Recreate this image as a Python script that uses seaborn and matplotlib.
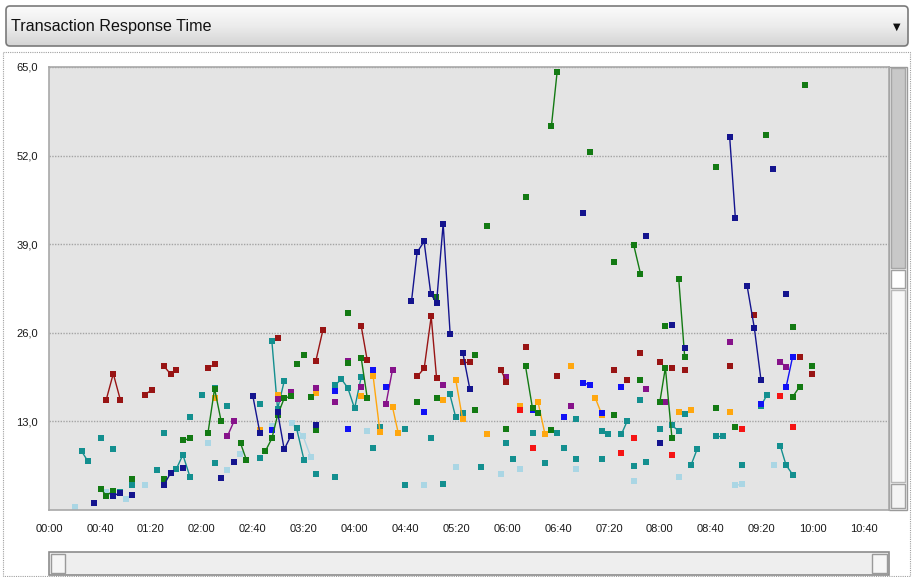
import numpy as np
import pandas as pd
import matplotlib
matplotlib.use('Agg')
import matplotlib.pyplot as plt
from matplotlib.patches import Rectangle, FancyBboxPatch
from matplotlib.colors import LinearSegmentedColormap
import seaborn as sns

# elapsed time in minutes, response time in seconds
# every inner list is one connected run of samples
dark_red = [
    [(45.0, 16.2), (50.5, 20.0), (56.0, 16.2)],
    [(75.1, 16.9), (80.6, 17.6)],
    [(90.3, 21.1), (95.8, 19.9), (100.0, 20.6)],
    [(124.9, 20.8), (130.1, 21.4)],
    [(179.6, 25.3)],
    [(209.7, 21.9), (215.2, 26.4)],
    [(245.3, 27.0), (250.0, 22.0)],
    [(289.3, 19.6), (294.8, 20.8), (300.3, 28.4), (304.5, 19.4)],
    [(325.1, 21.7), (330.4, 21.7)],
    [(355.0, 20.6), (359.4, 18.8)],
    [(374.4, 23.9)], [(399.2, 19.7)], [(444.3, 20.6)], [(454.2, 19.1)],
    [(464.7, 23.1)], [(479.9, 21.7)], [(489.5, 20.8)], [(499.5, 20.6)],
    [(534.8, 21.1)], [(554.2, 28.6)], [(589.8, 22.5)], [(599.5, 20.0)],
]

teal = [
    [(25.7, 8.6), (30.4, 7.2)],
    [(40.8, 10.5)], [(50.5, 8.9)], [(55.8, 2.7)], [(65.4, 3.6)],
    [(85.1, 5.8)], [(90.3, 11.3)],
    [(100.0, 6.0), (105.2, 8.1), (110.7, 4.9)],
    [(110.7, 13.6)], [(120.4, 16.9)], [(130.1, 17.9)], [(130.1, 6.9)],
    [(140.1, 15.3)], [(165.7, 15.5)], [(165.7, 7.7)],
    [(175.1, 24.8), (179.6, 14.8), (184.8, 18.9)],
    [(194.5, 12.0), (200.3, 7.4)],
    [(209.7, 5.3)],
    [(224.6, 18.3), (229.8, 19.2), (234.8, 17.9), (240.1, 14.9), (245.3, 19.5)],
    [(224.6, 4.9)], [(254.7, 9.1)], [(260.0, 12.2)], [(279.6, 11.9)],
    [(279.6, 3.6)], [(300.3, 10.5)], [(309.7, 3.8)],
    [(314.9, 17.0), (319.6, 13.6)],
    [(324.9, 14.2)], [(339.8, 6.3)], [(359.4, 9.9)], [(364.7, 7.5)],
    [(379.9, 11.3)], [(389.6, 6.9)], [(399.2, 11.3)], [(404.5, 9.1)],
    [(414.2, 13.4)], [(414.2, 7.5)],
    [(434.6, 11.6), (439.3, 11.2)],
    [(434.6, 7.5)],
    [(449.7, 11.1), (454.2, 13.0)],
    [(459.4, 6.4)], [(464.7, 16.1)], [(469.1, 7.1)], [(479.9, 11.9)],
    [(489.5, 12.4), (494.8, 11.6)],
    [(499.5, 14.1)],
    [(504.5, 6.6), (509.2, 8.9)],
    [(524.1, 10.8), (529.3, 10.8)],
    [(544.5, 6.6)],
    [(559.4, 15.3), (564.2, 16.9)],
    [(574.6, 9.4), (579.1, 6.6), (584.3, 5.2)],
]

green = [
    [(40.8, 3.1), (45.0, 2.1), (50.5, 2.8)],
    [(65.4, 4.5)], [(90.3, 4.6)],
    [(105.2, 10.2), (110.7, 10.5)],
    [(124.9, 11.3), (130.1, 17.8), (135.3, 13.0)],
    [(150.5, 9.8), (155.0, 7.4)],
    [(169.9, 8.6), (175.1, 10.5), (179.6, 13.9), (184.8, 16.4), (190.1, 16.7)],
    [(194.5, 21.4)], [(200.3, 22.8)], [(205.5, 16.6)], [(209.7, 11.7)],
    [(234.8, 28.9)], [(234.8, 21.6)],
    [(245.3, 22.3), (250.0, 16.5)],
    [(289.3, 15.8)], [(303.9, 31.3)], [(304.5, 16.4)], [(334.6, 22.8)],
    [(334.6, 14.7)], [(344.3, 41.7)], [(359.4, 11.9)], [(374.4, 45.9)],
    [(374.4, 21.1), (379.9, 14.9), (384.3, 14.2)],
    [(394.8, 56.4), (399.2, 64.2)],
    [(394.8, 11.7)], [(424.9, 52.5)], [(444.3, 13.9)], [(444.3, 36.4)],
    [(459.4, 38.9), (464.7, 34.7)],
    [(464.7, 19.1)],
    [(479.9, 15.8), (484.3, 20.9), (489.5, 10.5)],
    [(484.3, 27.0)],
    [(494.8, 33.9), (499.5, 22.4)],
    [(523.8, 50.3)], [(524.1, 15.0)], [(539.3, 12.2)], [(563.6, 55.0)],
    [(584.3, 26.9)],
    [(584.3, 16.6), (589.8, 18.1)],
    [(593.7, 62.3)], [(599.5, 21.1)],
]

navy = [
    [(35.3, 1.1)],
    [(50.5, 2.1), (55.8, 2.5)],
    [(65.4, 2.2)],
    [(90.3, 3.7), (95.8, 5.5)],
    [(105.5, 6.1)], [(135.3, 4.7)], [(145.3, 7.1)],
    [(160.2, 16.7), (165.7, 11.3)],
    [(179.6, 14.4), (184.8, 8.9), (190.1, 10.9)],
    [(209.7, 12.5)],
    [(284.8, 30.6), (289.2, 37.8), (294.7, 39.4), (300.0, 31.7),
     (304.5, 30.4), (309.7, 42.0), (315.2, 25.8)],
    [(325.1, 23.1), (330.6, 17.8)],
    [(419.7, 43.6)], [(469.1, 40.2)], [(479.9, 9.9)], [(489.5, 27.2)],
    [(499.5, 23.7)],
    [(534.8, 54.8), (539.3, 42.8)],
    [(548.5, 32.9), (554.2, 26.7), (559.4, 19.1)],
    [(568.9, 50.0)], [(579.1, 31.7)],
]

blue = [
    [(175.1, 11.7)], [(224.6, 17.5)], [(234.8, 11.9)], [(254.7, 20.5)],
    [(264.7, 18.0)], [(294.8, 14.4)], [(379.9, 14.7)], [(404.5, 13.6)],
    [(419.7, 18.7), (424.9, 18.3)],
    [(434.6, 14.2)], [(449.7, 18.0)], [(559.4, 15.6)],
    [(579.1, 18.0), (584.3, 22.5)],
]

purple = [
    [(140.1, 10.8), (145.3, 13.0)],
    [(180.0, 16.3)], [(190.1, 17.3)], [(209.7, 17.9)], [(224.6, 15.8)],
    [(234.8, 21.9)], [(245.3, 18.0)],
    [(264.7, 15.5), (269.9, 20.6)],
    [(309.7, 18.3)], [(359.4, 19.5)], [(410.0, 15.3)], [(469.1, 17.8)],
    [(484.3, 15.8)], [(534.8, 24.7)],
    [(574.6, 21.7), (579.1, 21.0)],
]

orange = [
    [(130.1, 16.4)], [(165.7, 11.8)], [(180.0, 16.9)], [(209.7, 17.2)],
    [(245.3, 16.7)],
    [(254.7, 19.6), (260.0, 11.5)],
    [(269.9, 15.1), (274.4, 11.3)],
    [(309.7, 16.1)],
    [(319.6, 19.1), (324.9, 13.4)],
    [(344.3, 11.1)], [(369.9, 15.3)],
    [(384.3, 15.8), (389.6, 11.2)],
    [(410.0, 21.1)],
    [(429.3, 16.4), (434.6, 13.9)],
    [(494.8, 14.4)], [(504.5, 14.7)], [(534.8, 14.4)],
]

red = [
    [(369.9, 14.7)], [(379.9, 9.1)], [(449.7, 8.3)], [(459.4, 10.6)],
    [(489.5, 8.1)], [(544.5, 11.9)], [(574.6, 16.7)], [(584.3, 12.2)],
]

light_blue = [
    [(20.4, 0.4)], [(45.0, 2.6)], [(60.2, 1.6)], [(75.4, 3.6)],
    [(124.9, 9.9)], [(140.1, 5.8)], [(149.7, 8.2)], [(175.1, 12.3)],
    [(190.6, 12.7), (199.7, 10.8), (205.7, 7.8)],
    [(249.5, 11.6)], [(294.8, 3.6)], [(319.4, 6.3)], [(355.0, 5.3)],
    [(369.9, 6.0)], [(414.2, 6.0)], [(459.4, 4.2)], [(494.8, 4.9)],
    [(539.3, 3.6), (544.5, 3.8)],
    [(569.4, 6.6)],
]

series = {
    'light_blue': light_blue, 'teal': teal, 'orange': orange, 'red': red,
    'purple': purple, 'blue': blue, 'green': green, 'dark_red': dark_red,
    'navy': navy,
}
palette = {
    'dark_red': '#981414', 'teal': '#138f8f', 'green': '#137a13',
    'navy': '#14148e', 'blue': '#1010f5', 'purple': '#86128a',
    'orange': '#ffa70f', 'red': '#f51414', 'light_blue': '#aad6e4',
}

rows = []
for name, segs in series.items():
    for i, seg in enumerate(segs):
        for t, v in seg:
            rows.append({'series': name, 'seg': f'{name}_{i}', 't': t, 'v': v})
df = pd.DataFrame(rows)

sns.set_style('white')
plt.rcParams['font.family'] = ['Liberation Sans', 'DejaVu Sans']

W, H = 914, 577
fig = plt.figure(figsize=(W / 100, H / 100), dpi=100)
fig.patch.set_facecolor('white')

# window chrome drawn in pixel coordinates
bg = fig.add_axes([0, 0, 1, 1], zorder=0)
bg.set_xlim(0, W)
bg.set_ylim(H, 0)
bg.axis('off')

bg.add_patch(Rectangle((3, 52), 907, 524, fill=False, ec='#a0a0a0', lw=0.8, ls=(0, (1, 1))))

hdr = FancyBboxPatch((6, 6), 902, 40, boxstyle='round,pad=0,rounding_size=4',
                     fc='none', ec='#7a7a7a', lw=1.2, zorder=3)
bg.add_patch(hdr)
cmap = LinearSegmentedColormap.from_list('hdr', ['#fbfbfb', '#ececec', '#d4d4d4'])
im = bg.imshow(np.linspace(0, 1, 64).reshape(-1, 1), extent=(6, 908, 46, 6),
               cmap=cmap, aspect='auto', zorder=2)
im.set_clip_path(hdr)
bg.text(11, 26.5, 'Transaction Response Time', fontsize=11.6, va='center',
        color='#111111', zorder=4)
bg.text(897, 27, '▼', fontsize=7, ha='center', va='center', color='#111',
        family=['DejaVu Sans'], zorder=4)

# vertical scrollbar
bg.add_patch(Rectangle((889, 67), 18, 443, fc='#f2f2f2', ec='#9a9a9a', lw=1))
bg.add_patch(Rectangle((891, 68), 14, 200, fc='#c8c8c8', ec='#a6a6a6', lw=1))
bg.add_patch(Rectangle((891, 270), 14, 18, fc='#ffffff', ec='#a0a0a0', lw=1))
bg.add_patch(Rectangle((891, 290), 14, 192, fc='#f8f8f8', ec='#b8b8b8', lw=1))
bg.add_patch(Rectangle((891, 484), 14, 24, fc='#f4f4f4', ec='#a0a0a0', lw=1))

# horizontal scrollbar
bg.add_patch(Rectangle((49, 552), 840, 23, fc='#eeeeee', ec='#8c8c8c', lw=1.2))
bg.add_patch(Rectangle((51, 554), 14, 19, fc='#f6f6f6', ec='#9a9a9a', lw=1))
bg.add_patch(Rectangle((872, 554), 15, 19, fc='#f6f6f6', ec='#9a9a9a', lw=1))

# plot area
ax = fig.add_axes([49 / W, (H - 510) / H, 840 / W, 443 / H], zorder=1)
ax.set_facecolor('#e4e4e4')

sns.lineplot(data=df, x='t', y='v', hue='series', units='seg', estimator=None,
             palette=palette, hue_order=list(series.keys()), marker='s',
             markersize=3.8, markeredgewidth=0, linewidth=1.0, legend=False,
             ax=ax)

ax.set_xlim(0, 660)
ax.set_ylim(0, 65)
xt = list(range(0, 641, 40))
ax.set_xticks(xt)
ax.set_xticklabels([f'{m // 60:02d}:{m % 60:02d}' for m in xt])
yt = [13, 26, 39, 52, 65]
ax.set_yticks(yt)
ax.set_yticklabels([f'{v:.1f}'.replace('.', ',') for v in yt])
ax.tick_params(axis='x', length=5, width=1, color='#a0a0a0', labelsize=8,
               labelcolor='#1a1a1a', pad=5)
ax.tick_params(axis='y', length=4, width=1, color='#a0a0a0', labelsize=8,
               labelcolor='#1a1a1a', pad=4)
ax.yaxis.grid(True, ls=(0, (1, 1)), color='#a4a4a4', lw=1)
ax.xaxis.grid(False)
ax.set_xlabel('')
ax.set_ylabel('')
for s in ax.spines.values():
    s.set_color('#a8a8a8')
    s.set_linewidth(1.2)

fig.savefig('out.png', dpi=100)
